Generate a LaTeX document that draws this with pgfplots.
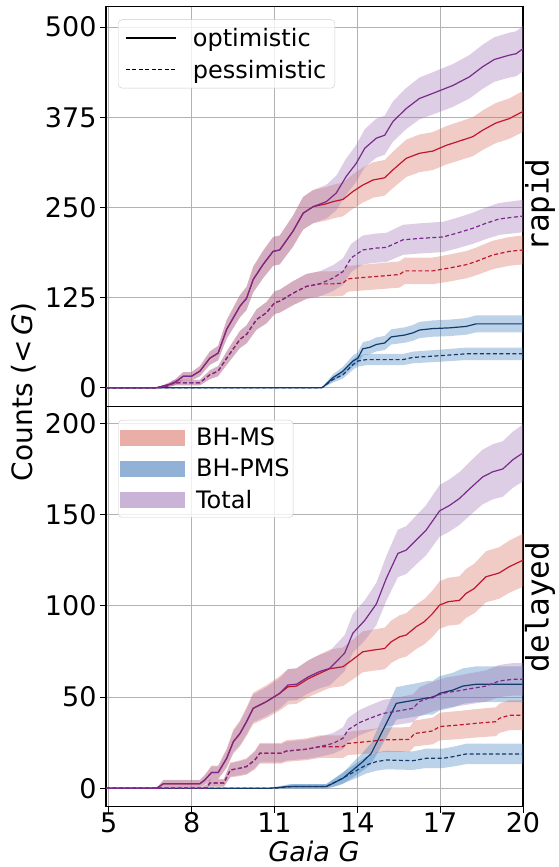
\documentclass[border=0pt]{standalone}
\usepackage{pgfplots}
\pgfplotsset{compat=1.18}
\usepackage{pgfplotstable}
\usepgfplotslibrary{fillbetween}
\usepackage{fontspec}
\setmainfont{DejaVu Sans}
\newfontfamily\monofont{DejaVu Sans Mono}

\definecolor{msline}{HTML}{C0172F}
\definecolor{pmsline}{HTML}{123B6B}
\definecolor{totline}{HTML}{7A2A8A}
\definecolor{msfill}{HTML}{D86A5C}
\definecolor{pmsfill}{HTML}{3F7FBF}
\definecolor{totfill}{HTML}{9D74B5}
\definecolor{mslegend}{HTML}{E9AFA7}
\definecolor{pmslegend}{HTML}{91B2D6}
\definecolor{totlegend}{HTML}{C9B3D7}

% ---------------- rapid (top) ----------------
\pgfplotstableread{
x y lo hi
4.9 0 0 0
6.73 0 0 0
7.34 6 2.5 9.5
7.7 16 10.2 21.8
8.0 16 10.2 21.8
8.3 23 16 30
8.66 41 31.7 50.3
8.96 48 38 58
9.27 81 68 94
9.75 113 97.6 128.4
9.99 124 107.9 140.1
10.23 150 132.2 167.8
10.59 171 152 190
10.95 189 169 209
11.19 191 171 211
11.67 217 195.6 238.4
12.04 242 219.4 264.6
12.4 251 228 274
12.88 258 234.7 281.3
13.24 270 246 294
13.6 293 268 318
13.96 311 285.4 336.6
14.27 332 305.6 358.4
14.69 346 319 373
14.99 350 323 377
15.29 369 341 397
15.77 387 358.5 415.5
16.25 401 372 430
16.73 408 378.7 437.3
17.46 419 389.3 448.7
18.06 431 400.9 461.1
18.54 445 414.4 475.6
18.96 455 424.1 485.9
19.5 461 429.9 492.1
19.75 463 431.8 494.2
20 470 438.6 501.4
}\tOr

\pgfplotstableread{
x y lo hi
4.9 0 0 0
6.73 0 0 0
7.34 6 2.5 9.5
7.7 16 10.2 21.8
8.0 16 10.2 21.8
8.3 23 16 30
8.66 41 31.7 50.3
8.96 48 38 58
9.27 81 68 94
9.75 113 97.6 128.4
9.99 124 107.9 140.1
10.23 150 132.2 167.8
10.59 171 152 190
10.95 189 169 209
11.19 191 171 211
11.67 217 195.6 238.4
12.04 242 219.4 264.6
12.4 251 228 274
12.88 255 231.8 278.2
13.12 258 234.7 281.3
13.48 261 237.6 284.4
13.84 272 248.1 295.9
14.2 281 256.7 305.3
14.57 288 263.4 312.6
14.99 291 266.3 315.7
15.29 302 276.8 327.2
15.77 318 292.1 343.9
16.25 325 298.9 351.1
16.73 328 301.7 354.3
17.22 336 309.4 362.6
17.7 342 315.2 368.8
18.18 348 321 375
18.54 357 329.6 384.4
19.02 367 339.2 394.8
19.5 373 345 401
20 383 354.6 411.4
}\mOr

\pgfplotstableread{
x y lo hi
4.9 0 0 0
12.7 0 0 0
12.76 1 0 2.3
13.12 14 9.3 18.7
13.48 23 17 29
13.84 37 29.4 44.6
14.02 41 33 49
14.2 54 44.8 63.2
14.45 56 46.6 65.4
14.69 60 50.3 69.7
14.99 62 52.2 71.8
15.23 70.5 60 81
15.71 73 62.3 83.7
16.01 76 65.1 86.9
16.25 80 68.8 91.2
16.73 82 70.7 93.3
17.34 83 71.6 94.4
17.94 85 73.5 96.5
18.3 88.5 76.7 100.3
20 88.5 76.7 100.3
}\pOr

\pgfplotstableread{
x y lo hi
4.9 0 0 0
6.73 0 0 0
7.1 2 0 4
7.34 7 3.2 10.8
8.3 7 3.2 10.8
8.66 18 11.9 24.2
8.96 23 16 30
9.27 41 31.7 50.3
9.75 67 55.1 78.9
9.99 74 61.5 86.5
10.35 94.5 80.4 108.6
10.71 104 89.2 118.8
11.01 118 102.3 133.8
11.19 120 104.1 135.9
11.67 131 114.4 147.6
12.16 140.5 123.3 157.7
12.64 144 126.6 161.4
13.12 152 134.1 169.9
13.48 161 142.6 179.4
13.78 180 160.5 199.5
14.2 191 171 211
14.69 193.6 173.4 213.8
15.05 194.5 174.3 214.7
15.65 205 184.2 225.8
16.25 207 186.1 227.9
17.1 209 188 230
17.58 214 192.8 235.2
18.18 221 199.4 242.6
18.66 228 206.1 249.9
19.14 234 211.8 256.2
20 238 215.6 260.4
}\tPr

\pgfplotstableread{
x y lo hi
4.9 0 0 0
6.73 0 0 0
7.1 2 0 4
7.34 7 3.2 10.8
8.3 7 3.2 10.8
8.66 18 11.9 24.2
8.96 23 16 30
9.27 41 31.7 50.3
9.75 67 55.1 78.9
9.99 74 61.5 86.5
10.35 94.5 80.4 108.6
10.71 104 89.2 118.8
11.01 118 102.3 133.8
11.19 120 104.1 135.9
11.67 131 114.4 147.6
12.16 140.5 123.3 157.7
12.64 144 126.6 161.4
13.12 144 126.6 161.4
13.48 145 127.5 162.5
13.66 151 133.2 168.8
13.96 152 134.1 169.9
14.93 155 137 173
15.53 157 138.8 175.2
15.71 162 143.5 180.5
16.73 162 143.5 180.5
17.34 166 147.3 184.7
17.94 170.5 151.6 189.4
18.3 175 155.8 194.2
18.9 184 164.3 203.7
19.5 189 169.1 208.9
20 191 171 211
}\mPr

\pgfplotstableread{
x y lo hi
4.9 0 0 0
12.7 0 0 0
12.76 1 0 2.2
13.12 11.5 7.3 15.7
13.48 18 12.7 23.3
13.84 32 24.9 39.1
14.02 37 29.4 44.6
14.33 39 31.2 46.8
15.65 39 31.2 46.8
16.01 42 33.9 50.1
17.1 44.7 36.3 53.1
17.94 47 38.4 55.6
20 47 38.4 55.6
}\pPr

% ---------------- delayed (bottom) ----------------
\pgfplotstableread{
x y lo hi
4.9 0 0 0
6.73 0 0 0
6.98 2.5 0.6 4.4
8.3 2.5 0.6 4.4
8.48 4.6 2.1 7.1
8.72 8.6 5.2 12
8.96 8.6 5.2 12
9.27 16.4 11.7 21.1
9.51 25.5 19.7 31.3
9.75 30 23.7 36.3
9.99 36.5 29.55 43.45
10.23 43.8 36.2 51.4
10.71 47.5 39.6 55.4
11.19 52 43.7 60.3
11.49 56.6 47.95 65.25
11.8 57 48.3 65.7
12.22 61 52 70
12.64 64 54.8 73.2
13.0 65.7 56.4 75
13.24 69.4 59.8 79
13.54 74 64.1 83.9
13.84 85 74.4 95.6
14.27 92 81 103
14.69 101 89.4 112.6
15.05 115 102.7 127.3
15.47 128.7 115.7 141.7
15.77 130.5 117.4 143.6
16.13 136 122.6 149.4
16.49 141.4 127.7 155.1
16.98 152 137.8 166.2
17.34 155 140.7 169.3
17.7 158.8 144.3 173.3
18.06 164 149.3 178.7
18.54 170.6 155.6 185.6
18.9 173.4 158.3 188.5
19.27 175 159.8 190.2
19.63 180 164.6 195.4
20 183.8 168.2 199.4
}\tOd

\pgfplotstableread{
x y lo hi
4.9 0 0 0
6.73 0 0 0
6.98 2.5 0.4 4.6
8.3 2.5 0.4 4.6
8.48 4.6 1.8 7.4
8.72 8.6 4.8 12.4
8.96 8.6 4.8 12.4
9.27 16.4 11.1 21.7
9.51 25.5 18.9 32.1
9.75 30 22.9 37.1
9.99 36.5 28.65 44.35
10.23 43.8 35.2 52.4
10.71 47.5 38.5 56.5
11.19 52 42.6 61.4
11.49 55.6 45.9 65.3
11.8 56 46.3 65.7
12.22 60 49.9 70.1
12.64 63 52.7 73.3
13.0 65.5 55 76
13.48 66.6 56 77.2
13.84 70.6 59.7 81.5
14.2 74.8 63.6 86
14.57 75.7 64.4 87
14.99 76.6 65.2 88
15.23 80.3 68.7 91.9
15.53 83 71.2 94.8
15.77 84 72.1 95.9
16.13 88.5 76.3 100.7
16.43 91.3 78.9 103.7
16.73 95.8 83.1 108.5
16.98 100.4 87.4 113.4
17.28 102.2 89.1 115.3
17.7 103 89.8 116.2
17.94 106.8 93.4 120.2
18.24 109.5 95.9 123.1
18.66 115.9 101.9 129.9
19.14 118 103.9 132.1
19.5 121.4 107.1 135.7
20 125 110.5 139.5
}\mOd

\pgfplotstableread{
x y lo hi
4.9 0 0 0
10.8 0 0 0
11.55 1 0 2.3
12.88 1 0 2.3
13.12 2.7 0.6 4.8
13.48 5.5 2.5 8.5
13.84 10 5.9 14.1
14.2 14.6 9.6 19.6
14.5 19 13.3 24.7
14.8 28 21.1 34.9
15.11 37.4 29.45 45.35
15.41 46.5 37.6 55.4
15.77 47.5 38.5 56.5
16.25 48.7 39.6 57.8
16.55 49.6 40.4 58.8
16.73 49.6 40.4 58.8
16.98 52 42.6 61.4
17.46 53.8 44.3 63.3
17.82 56 46.3 65.7
18.3 57 47.2 66.8
20 57 47.2 66.8
}\pOd

\pgfplotstableread{
x y lo hi
4.9 0 0 0
8.3 0 0 0
8.54 0 0 2
8.66 2.9 1.0 4.8
9.17 2.9 1.0 4.8
9.4 10 6.4 13.6
9.75 11 7.2 14.8
9.99 11.9 7.9 15.9
10.29 15.5 11 20
10.47 19.2 14.2 24.2
11.25 19.2 14.2 24.2
11.43 20.4 15.2 25.6
12.16 21.4 16.1 26.7
12.64 22.8 17.3 28.3
13.12 24.6 18.9 30.3
13.48 27.4 21.4 33.4
13.66 32 25.5 38.5
14.08 36 29.1 42.9
14.45 38.3 31.2 45.4
14.93 41 33.6 48.4
15.53 42.5 35 50
16.01 43.8 36.2 51.4
16.25 47.5 39.6 55.4
16.73 50.2 42.1 58.3
17.22 52.4 44.1 60.7
17.7 53.5 45.1 61.9
18.18 54.8 46.3 63.3
18.66 56 47.4 64.6
19.14 58.8 50 67.6
19.63 59.7 50.8 68.6
20 59.7 50.8 68.6
}\tPd

\pgfplotstableread{
x y lo hi
4.9 0 0 0
8.3 0 0 0
8.54 0 0 2
8.66 2.9 0.7 5.1
9.17 2.9 0.7 5.1
9.4 10 5.9 14.1
9.75 11 6.7 15.3
9.99 11.9 7.4 16.4
10.29 15.5 10.4 20.6
10.47 19.2 13.5 24.9
11.25 19.2 13.5 24.9
11.43 20.4 14.5 26.3
12.16 21.4 15.4 27.4
12.64 22.8 16.6 29
13.48 22.8 16.6 29
13.66 24.6 18.2 31
14.33 25.5 18.9 32.1
14.93 26.5 19.8 33.2
15.89 26.8 20.1 33.5
16.07 30 22.9 37.1
16.73 31.4 24.1 38.7
16.98 33.8 26.2 41.4
17.7 34.7 27 42.4
18.3 35.6 27.8 43.4
19.02 36.5 28.6 44.4
19.14 38.3 30.3 46.3
19.5 40 31.8 48.2
20 40 31.8 48.2
}\mPd

\pgfplotstableread{
x y lo hi
4.9 0 0 0
11.0 0 0 0
11.67 1 0 2.3
12.88 1 0 2.3
13.36 4.6 1.8 7.4
13.84 8.6 4.8 12.4
14.33 12.8 8.15 17.45
14.69 14.6 9.6 19.6
15.05 15.5 10.4 20.6
16.01 15.1 10.05 20.15
16.49 16.4 11.1 21.7
17.1 16.4 11.1 21.7
17.46 17.3 11.9 22.7
17.94 18.8 13.2 24.4
20 18.8 13.2 24.4
}\pPd

\newcommand{\band}[3]{%
  \addplot[draw=none, name path=#2lo, forget plot] table[x=x,y=lo]{#1};
  \addplot[draw=none, name path=#2hi, forget plot] table[x=x,y=hi]{#1};
  \addplot[fill=#3, fill opacity=0.35, draw=none, forget plot] fill between[of=#2lo and #2hi];
}

\pgfplotsset{panel/.style={
  scale only axis, width=417pt, height=400pt,
  xmin=4.9, xmax=20,
  axis line style={line width=1.2pt, black},
  grid=major, major grid style={color=gray!60, line width=0.8pt},
  tick align=outside, major tick length=6pt,
  tick style={line width=1pt, black},
  xtick={5,8,11,14,17,20},
  ytick pos=left, xtick pos=bottom,
  ticklabel style={font=\fontsize{27}{32}\selectfont},
  xticklabel style={inner sep=0pt},
  /pgf/number format/assume math mode=true,
  legend cell align=left,
  legend style={anchor=north west, draw=black!20, rounded corners=4pt,
    fill=white, fill opacity=0.8, text opacity=1,
    font=\fontsize{24}{28}\selectfont, nodes={inner sep=1.5pt}},
}}

\begin{document}
\begin{tikzpicture}

% ---------------- top: rapid ----------------
\begin{axis}[panel, at={(106pt,460.5pt)}, anchor=south west,
  ymin=-26, ymax=528.5, ytick={0,125,250,375,500},
  xticklabels={}, xtick style={draw=none},
  legend style={at={(0.0288,0.9675)}, inner xsep=7pt, inner ysep=7pt,
    row sep=9pt, column sep=15pt},
  legend image code/.code={\draw[sharp corners, #1] (0pt,0pt) -- (50pt,0pt);}]
\band{\mOr}{mor}{msfill}
\band{\mPr}{mpr}{msfill}
\band{\pOr}{por}{pmsfill}
\band{\pPr}{ppr}{pmsfill}
\band{\tOr}{tor}{totfill}
\band{\tPr}{tpr}{totfill}
\addplot[msline, line width=1.2pt, forget plot] table[x=x,y=y]{\mOr};
\addplot[msline, line width=1.2pt, dash pattern=on 4pt off 2.5pt, forget plot] table[x=x,y=y]{\mPr};
\addplot[pmsline, line width=1.2pt, forget plot] table[x=x,y=y]{\pOr};
\addplot[pmsline, line width=1.2pt, dash pattern=on 4pt off 2.5pt, forget plot] table[x=x,y=y]{\pPr};
\addplot[totline, line width=1.2pt, forget plot] table[x=x,y=y]{\tOr};
\addplot[totline, line width=1.2pt, dash pattern=on 4pt off 2.5pt, forget plot] table[x=x,y=y]{\tPr};
\addlegendimage{black, line width=1.2pt}
\addlegendentry{optimistic}
\addlegendimage{black, line width=1.2pt, dash pattern=on 4pt off 2.5pt}
\addlegendentry{pessimistic}
\end{axis}

% ---------------- bottom: delayed ----------------
\begin{axis}[panel, at={(106pt,60.3pt)}, anchor=south west,
  ymin=-10.1, ymax=209.1, ytick={0,50,100,150,200},
  legend style={at={(0.0288,0.967)}, inner xsep=2pt, inner ysep=6pt,
    row sep=9pt, column sep=10pt}]
\band{\mOd}{mod}{msfill}
\band{\mPd}{mpd}{msfill}
\band{\pOd}{pod}{pmsfill}
\band{\pPd}{ppd}{pmsfill}
\band{\tOd}{tod}{totfill}
\band{\tPd}{tpd}{totfill}
\addplot[msline, line width=1.2pt, forget plot] table[x=x,y=y]{\mOd};
\addplot[msline, line width=1.2pt, dash pattern=on 4pt off 2.5pt, forget plot] table[x=x,y=y]{\mPd};
\addplot[pmsline, line width=1.2pt, forget plot] table[x=x,y=y]{\pOd};
\addplot[pmsline, line width=1.2pt, dash pattern=on 4pt off 2.5pt, forget plot] table[x=x,y=y]{\pPd};
\addplot[totline, line width=1.2pt, forget plot] table[x=x,y=y]{\tOd};
\addplot[totline, line width=1.2pt, dash pattern=on 4pt off 2.5pt, forget plot] table[x=x,y=y]{\tPd};
\addlegendimage{legend image code/.code={\fill[mslegend, fill opacity=1, sharp corners] (0pt,-7.5pt) rectangle (64pt,7.5pt);}}
\addlegendentry{BH-MS}
\addlegendimage{legend image code/.code={\fill[pmslegend, fill opacity=1, sharp corners] (0pt,-7.5pt) rectangle (64pt,7.5pt);}}
\addlegendentry{BH-PMS\hspace{6pt}}
\addlegendimage{legend image code/.code={\fill[totlegend, fill opacity=1, sharp corners] (0pt,-7.5pt) rectangle (64pt,7.5pt);}}
\addlegendentry{Total}
\end{axis}

\node[rotate=90, font=\fontsize{28}{33}\selectfont] at (24pt,475pt) {Counts (<\,\textit{G})};
\node[font=\fontsize{27}{32}\selectfont, inner sep=0pt] at (314pt,16pt) {\textit{Gaia G}};
\node[rotate=90, font=\monofont\fontsize{31}{36}\selectfont] at (540pt,662pt) {rapid};
\node[rotate=90, font=\monofont\fontsize{31}{36}\selectfont] at (540pt,260pt) {delayed};
\pgfresetboundingbox
\path[use as bounding box] (0,0) rectangle (559pt,867pt);
\end{tikzpicture}
\end{document}
